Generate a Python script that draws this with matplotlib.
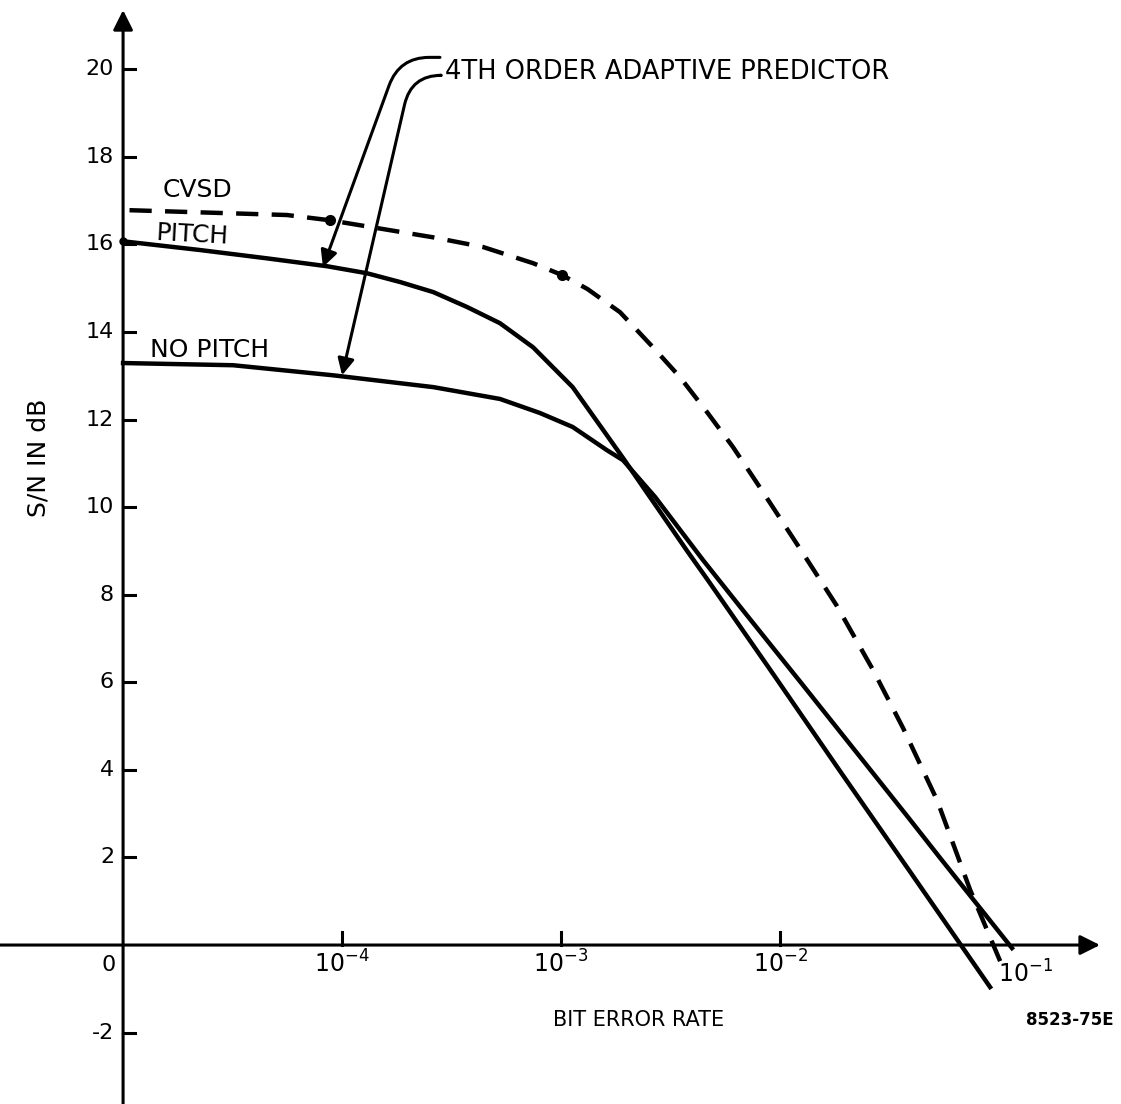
import matplotlib
matplotlib.use('Agg')
import matplotlib.pyplot as plt

plt.rcParams['font.family'] = ['DejaVu Sans']
plt.rcParams['mathtext.default'] = 'regular'

# values (BER vs S/N in dB)
cvsd_ber = [1.07e-5, 5.6e-5, 8.8e-5, 2.61e-4, 4.4e-4, 7.45e-4, 1.01e-3, 1.32e-3,
            1.86e-3, 2.63e-3, 3.49e-3, 4.64e-3, 6.10e-3, 7.85e-3, 1.23e-2, 1.82e-2,
            2.66e-2, 3.65e-2, 5.21e-2, 7.38e-2, 0.103]
cvsd_snr = [16.78, 16.67, 16.55, 16.16, 15.94, 15.57, 15.30, 14.98,
            14.45, 13.65, 12.97, 12.17, 11.37, 10.55, 9.06, 7.74,
            6.28, 4.95, 3.31, 1.26, -0.46]
cvsd_dot_ber = [8.8e-5, 1.01e-3]
cvsd_dot_snr = [16.55, 15.30]

pitch_ber = [1.0e-5, 2.25e-5, 4.55e-5, 8.55e-5, 1.30e-4, 1.84e-4, 2.61e-4, 3.72e-4,
             5.26e-4, 7.45e-4, 1.13e-3, 1.62e-3, 1.92e-3, 2.42e-3, 3.80e-3,
             4.64e-3, 9.3e-3, 1.88e-2, 3.93e-2, 9.1e-2]
pitch_snr = [16.07, 15.87, 15.68, 15.50, 15.34, 15.14, 14.91, 14.57,
             14.20, 13.65, 12.74, 11.64, 11.12, 10.39, 8.97,
             8.36, 6.19, 3.97, 1.67, -0.96]

nopitch_ber = [1.0e-5, 3.18e-5, 9.1e-5, 2.61e-4, 5.26e-4, 8.0e-4, 1.13e-3, 1.62e-3,
               1.92e-3, 2.69e-3, 4.45e-3, 7.06e-3, 1.27e-2, 2.25e-2, 3.80e-2,
               5.38e-2, 0.1146]
nopitch_snr = [13.29, 13.24, 13.01, 12.74, 12.47, 12.15, 11.83, 11.30,
               11.07, 10.23, 8.79, 7.53, 5.94, 4.38, 2.95,
               1.99, -0.07]

ytick_vals = [20, 18, 16, 14, 12, 10, 8, 6, 4, 2, -2]
xtick_vals = [1e-4, 1e-3, 1e-2]
xtick_labels = ['$10^{-4}$', '$10^{-3}$', '$10^{-2}$']

fig = plt.figure(figsize=(11.21, 11.04), dpi=100)
ax = fig.add_axes([0, 0, 1, 1])
ax.set_xscale('log')
ax.set_xlim(10 ** -5.562, 10 ** -0.443)
ax.set_ylim(-3.63, 21.58)
ax.axis('off')

x0 = 1e-5
lw_axis = 2.2

# axes drawn by hand with arrow heads, like the original drawing
ax.annotate('', xy=(x0, 21.35), xytext=(x0, -3.7),
            arrowprops=dict(arrowstyle='-|>', lw=lw_axis, color='black',
                            mutation_scale=30, shrinkA=0, shrinkB=0))
ax.annotate('', xy=(10 ** -0.539, 0), xytext=(10 ** -5.6, 0),
            arrowprops=dict(arrowstyle='-|>', lw=lw_axis, color='black',
                            mutation_scale=30, shrinkA=0, shrinkB=0))

tick_len = 10 ** (12 / 219)
for v in ytick_vals:
    ax.plot([x0, x0 * tick_len], [v, v], color='black', lw=lw_axis)
    ax.text(x0 / 10 ** (9 / 219), v, str(v), ha='right', va='center', fontsize=16)
ax.text(x0 / 10 ** (7 / 219), -0.45, '0', ha='right', va='center', fontsize=16)

for v, lab in zip(xtick_vals, xtick_labels):
    ax.plot([v, v], [0, 0.3], color='black', lw=lw_axis)
    ax.text(v, -0.12, lab, ha='center', va='top', fontsize=17)
ax.text(0.1315, -0.36, '$10^{-1}$', ha='center', va='top', fontsize=17)

# curves
ax.plot(cvsd_ber, cvsd_snr, color='black', lw=3.2, ls=(0, (5, 3)),
        solid_capstyle='butt')
ax.plot(cvsd_dot_ber, cvsd_dot_snr, 'o', color='black', ms=7)
ax.plot(pitch_ber, pitch_snr, color='black', lw=3.2)
ax.plot(pitch_ber[:1], pitch_snr[:1], 'o', color='black', ms=5)
ax.plot(nopitch_ber, nopitch_snr, color='black', lw=3.2)

# curve labels
ax.text(1.52e-5, 17.24, 'CVSD', ha='left', va='center', fontsize=18)
ax.text(1.40e-5, 16.21, 'PITCH', ha='left', va='center', fontsize=18, rotation=-3)
ax.text(1.33e-5, 13.58, 'NO PITCH', ha='left', va='center', fontsize=18)
ax.text(2.95e-4, 19.93, '4TH ORDER ADAPTIVE PREDICTOR', ha='left', va='center',
        fontsize=18.5)

# leaders from the annotation to the two predictor curves
ax.annotate('', xy=(8.18e-5, 15.48), xytext=(2.80e-4, 20.27),
            arrowprops=dict(arrowstyle='-|>', lw=2.2, color='black',
                            connectionstyle='angle,angleA=180,angleB=70,rad=30',
                            mutation_scale=25, shrinkA=0, shrinkB=0))
ax.annotate('', xy=(1.0e-4, 13.01), xytext=(2.80e-4, 19.86),
            arrowprops=dict(arrowstyle='-|>', lw=2.2, color='black',
                            connectionstyle='angle,angleA=180,angleB=77,rad=30',
                            mutation_scale=25, shrinkA=0, shrinkB=0))

# axis titles
ax.text(4.09e-6, 11.12, 'S/N IN dB', rotation=90, ha='center', va='center', fontsize=18)
ax.text(2.25e-3, -1.71, 'BIT ERROR RATE', ha='center', va='center', fontsize=15)
ax.text(0.211, -1.71, '8523-75E', ha='center', va='center', fontsize=12,
        fontweight='bold')

fig.savefig('out.png', dpi=100, facecolor='white')
